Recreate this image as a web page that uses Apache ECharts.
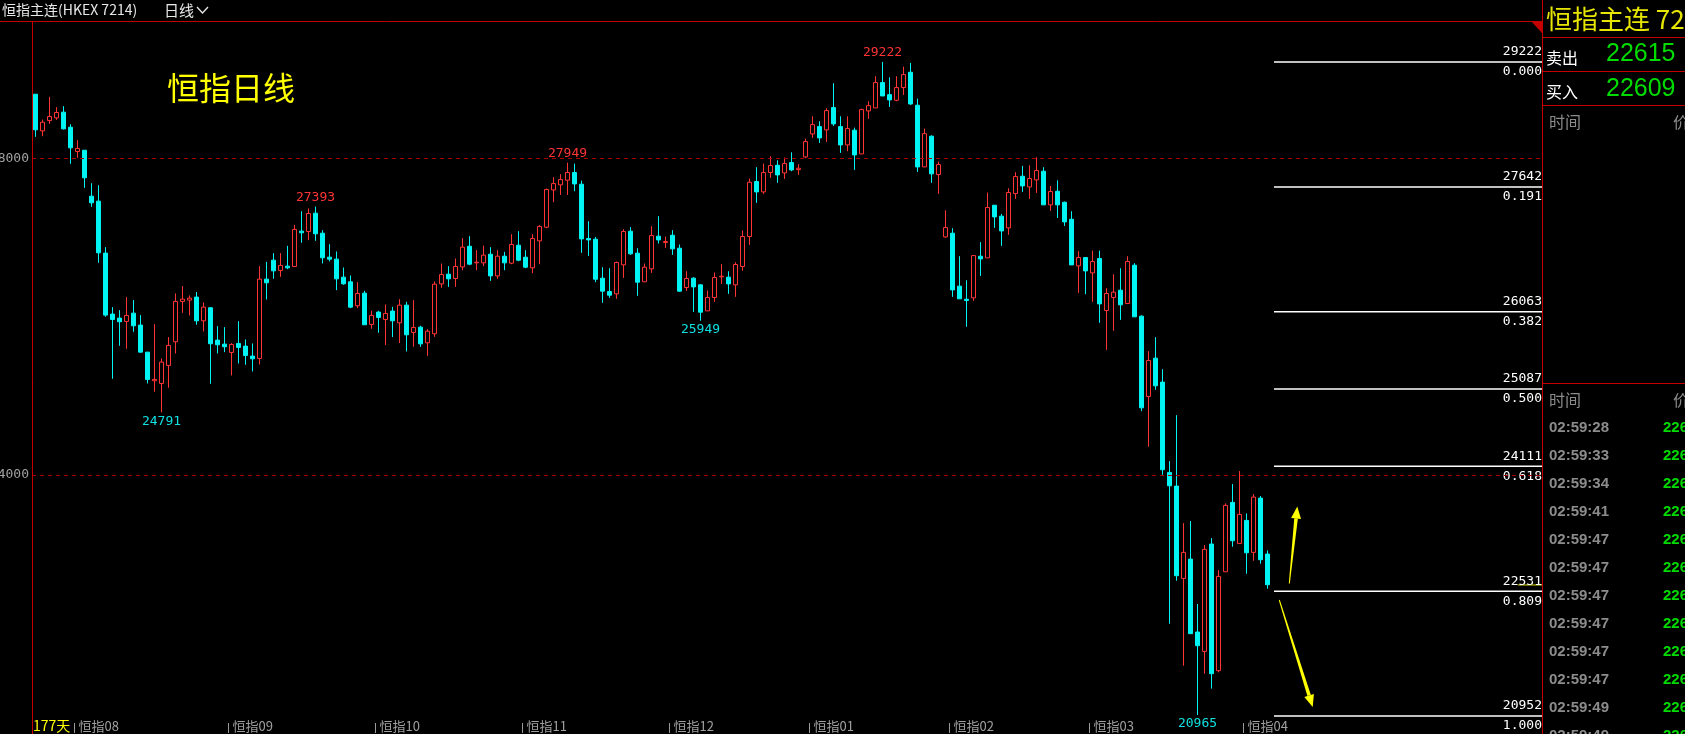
<!DOCTYPE html>
<html><head><meta charset="utf-8">
<script src="https://cdn.jsdelivr.net/npm/echarts@6/dist/echarts.min.js"></script>
<style>html,body{margin:0;padding:0;background:#000;overflow:hidden}#c{width:1685px;height:734px}</style>
</head><body><div id="c"></div>
<script>
// ---- data ----
const openP = [28814,28351,28481,28515,28587,28397,28090,28106,27525,27462,26805,26034,25983,25941,26046,25895,25553,25191,25157,25385,
25684,26194,26211,26249,25949,26114,25705,25654,25549,25663,25629,25503,25473,26476,26716,26586,26640,26636,27083,27078,
27310,27057,26754,26729,26501,26442,26139,26299,25903,26059,25966,26072,25924,26147,25802,25869,25671,25785,26416,26539,
26484,26631,26892,26682,26682,26791,26517,26766,26678,26905,26753,26619,26960,27133,27604,27668,27727,27824,27676,26989,
26981,26488,26319,26290,26657,27082,26804,26442,26606,27019,26939,27031,26867,26370,26488,26404,26075,26244,26505,26501,
26404,26636,27015,27710,27579,27824,27916,27819,27950,27861,28021,28312,28405,28363,28645,28405,28173,28359,28059,28603,
28641,28961,28809,28738,28898,29092,28675,27895,28283,27798,27010,27057,26387,26222,26239,26766,26745,27411,27272,27124,
27558,27777,27642,27731,27840,27415,27587,27448,27233,26644,26749,26555,26736,26079,26244,26336,26168,26652,26008,24992,
25477,25174,24032,23859,22692,22936,22014,21769,23126,21525,22776,23653,23134,23425,23021,23707,23000];
const closeP = [28364,28460,28532,28583,28376,28136,28128,27757,27441,26809,26021,25966,25937,26017,25886,25553,25208,25208,25427,25638,
26194,26223,26236,25949,26122,25659,25646,25621,25650,25612,25511,25469,26476,26430,26581,26649,26619,27104,27062,27306,
27049,26746,26729,26480,26417,26122,26295,25899,26017,25992,26042,25949,26147,25772,25865,25658,25818,26412,26534,26480,
26636,26880,26665,26690,26779,26517,26766,26682,26914,26715,26627,26989,27141,27609,27684,27735,27824,27680,26985,26972,
26475,26324,26273,26686,27078,26796,26437,26627,27027,26972,26951,26859,26324,26484,26378,26058,26244,26496,26513,26416,
26661,27015,27701,27579,27824,27912,27794,27937,27857,27878,28215,28430,28262,28607,28439,28173,28380,28047,28620,28670,
28961,28792,28742,28898,29062,28691,27895,28316,27807,27925,27128,26340,26227,26206,26774,26732,27381,27263,27086,27571,
27773,27655,27748,27849,27415,27583,27415,27200,26656,26749,26580,26698,26163,26294,26311,26151,26699,25999,24849,25447,
25127,24066,23863,22726,23021,21993,21841,23059,21487,22717,23615,23168,23501,23016,23720,22928,22612];
const lowP = [28275,28283,28439,28490,28368,27934,28010,27630,27390,26682,26000,25216,25633,25595,25810,25545,25157,25052,24791,25103,
25537,26050,26017,25899,25815,25153,25537,25553,25258,25410,25393,25309,25397,26219,26480,26505,26602,26632,26935,26969,
26961,26674,26699,26337,26404,26109,26109,25899,25848,25798,25642,25743,25667,25562,25621,25620,25506,25747,26366,26378,
26378,26589,26652,26589,26640,26454,26480,26589,26665,26703,26614,26551,26665,27120,27449,27541,27541,27588,26808,26770,
26437,26176,26239,26227,26492,26783,26265,26442,26555,26926,26871,26783,26315,26328,26062,25949,26075,26189,26416,26290,
26252,26581,26909,27440,27554,27756,27693,27743,27840,27794,28005,28262,28198,28211,28413,28072,28093,27857,28059,28502,
28641,28792,28653,28725,28805,28679,27832,27895,27693,27554,26998,26252,26227,25873,26201,26517,26745,27124,26897,27036,
27491,27579,27491,27566,27415,27339,27250,27149,26656,26302,26286,26189,25923,25582,25822,25961,26168,25999,24807,24356,
25077,24002,22119,22663,21588,21993,20965,21487,21298,21504,22776,23092,23134,22751,22915,22877,22561];
const highP = [28814,28494,28781,28650,28663,28435,28233,28106,27689,27664,26880,26122,26084,26249,26211,26021,25553,25907,25473,25743,
26295,26388,26270,26312,26181,26122,25882,25869,25667,25945,25713,25663,26640,26695,26805,26805,26897,27163,27335,27370,
27393,27095,26918,26826,26623,26522,26438,26329,26076,26076,26156,26126,26223,26190,26211,25886,25843,26446,26673,26640,
26737,26994,27019,26842,26901,26880,26842,26821,27044,27082,26842,27044,27158,27621,27765,27802,27949,27937,27722,27208,
27010,26627,26614,26699,27107,27133,26867,26673,27145,27272,27015,27095,26914,26576,26501,26412,26332,26560,26665,26576,
26690,27091,27748,27891,27937,28030,27979,28013,28080,27929,28253,28535,28472,28637,28953,28535,28535,28392,28632,28725,
29041,29222,29028,29041,29163,29210,28759,28380,28295,27962,27347,27120,26766,26463,26774,26943,27571,27411,27301,27625,
27828,27908,27916,28017,27891,27655,27726,27457,27335,26829,26749,26837,26837,26361,26538,26614,26766,26678,26020,25565,
25742,25338,24175,24756,23391,23417,22368,23113,23202,22797,23640,23884,24049,23514,23758,23733,23046];
const monthStart = [6,28,49,70,91,111,131,151,173];
const monthLabels = ['恒指08','恒指09','恒指10','恒指11','恒指12','恒指01','恒指02','恒指03','恒指04'];
const gridValues = [24000, 28000];
const fibValues = [29222,27642,26063,25087,24111,22531,20952];
const fibRatios = ['0.000','0.191','0.382','0.500','0.618','0.809','1.000'];
const peakIndex = [18,40,76,95,121,166];
const peakValues = [24791,27393,27949,25949,29222,20965];
const peakIsHigh = [false,true,true,false,true,false];
const lastPrice = 22609;
const askPrice = '22615', bidPrice = '22609';
const tickTimes = ['02:59:28','02:59:33','02:59:34','02:59:41','02:59:47','02:59:47','02:59:47','02:59:47','02:59:47','02:59:47','02:59:49','02:59:49'];
const tickPrices = ['22612','22611','22612','22610','22609','22609','22610','22609','22610','22609','22612','22611'];
const dayCount = '177天';

// ---- build ----
const TOTAL = 216; // candles + empty space to the right
const cats = [];
for (let i = 0; i < TOTAL; i++) cats.push(String(i));
const labelMap = {};
monthStart.forEach((s, k) => { labelMap[s] = monthLabels[k]; });
const candles = openP.map((o, i) => [o, closeP[i], lowP[i], highP[i]]);

const RED = '#ff3434', CYAN = '#00f4f4', LINE_RED = '#c40000';
const YMIN = 20863.5, YMAX = 29740;
const NUMFONT = 'DejaVu Sans Mono';

const series = [{
  type: 'candlestick', xAxisIndex: 0, yAxisIndex: 0, data: candles, barWidth: 5,
  itemStyle: { color: '#000', color0: CYAN, borderColor: RED, borderColor0: CYAN, borderWidth: 1 },
  markLine: {
    silent: true, symbol: 'none', animation: false,
    label: { show: false },
    lineStyle: { color: '#a80000', type: [4, 4], width: 1 },
    data: gridValues.map(v => ({ yAxis: v }))
  },
  markPoint: {
    silent: true, symbol: 'circle', symbolSize: 1, itemStyle: { color: 'rgba(0,0,0,0)' },
    data: peakIndex.map((ix, k) => ({
      coord: [String(ix), peakValues[k]], value: peakValues[k],
      label: {
        show: true, formatter: String(peakValues[k]),
        position: peakIsHigh[k] ? 'top' : 'bottom', distance: 2,
        color: peakIsHigh[k] ? RED : '#10e0e0', fontSize: 13, fontFamily: NUMFONT
      }
    }))
  }
}];

const fibLabel = (text, pos) => ({ show: true, position: pos, align: 'right', distance: 3, formatter: text, color: '#ffffff', fontSize: 13, fontFamily: NUMFONT });
fibValues.forEach((v, k) => {
  series.push({
    type: 'line', xAxisIndex: 1, yAxisIndex: 1, symbol: 'circle', symbolSize: 1, showSymbol: true, silent: true,
    itemStyle: { color: 'rgba(0,0,0,0)' },
    lineStyle: { color: '#ffffff', width: 1.5 },
    label: { show: false },
    data: [{ value: [0, v] }, { value: [1, v], label: fibLabel(String(v), 'top') }]
  });
  series.push({
    type: 'line', xAxisIndex: 1, yAxisIndex: 1, symbol: 'circle', symbolSize: 1, showSymbol: true, silent: true,
    itemStyle: { color: 'rgba(0,0,0,0)' },
    lineStyle: { opacity: 0 },
    label: { show: false },
    data: [{ value: [0, v] }, { value: [1, v], label: fibLabel(fibRatios[k], 'bottom') }]
  });
});
series.push({
  type: 'line', xAxisIndex: 1, yAxisIndex: 1, symbol: 'none', silent: true,
  lineStyle: { color: '#e0e000', width: 1 },
  data: [[0.91, lastPrice], [1, lastPrice]]
});

// ---- decorations ----
function arrow(tail, tip, headLen, halfW, shaftW) {
  const dx = tip[0] - tail[0], dy = tip[1] - tail[1];
  const L = Math.sqrt(dx * dx + dy * dy), ux = dx / L, uy = dy / L;
  const bx = tip[0] - ux * headLen, by = tip[1] - uy * headLen;
  const px = -uy, py = ux;
  return [
    { type: 'polygon', z: 60, shape: { points: [[tail[0] + px * 0.5, tail[1] + py * 0.5], [tail[0] - px * 0.5, tail[1] - py * 0.5], [bx - px * shaftW, by - py * shaftW], [bx + px * shaftW, by + py * shaftW]] }, style: { fill: '#ffff00' } },
    { type: 'polygon', z: 60, shape: { points: [[tip[0], tip[1]], [bx + px * halfW, by + py * halfW], [bx - px * halfW, by - py * halfW]] }, style: { fill: '#ffff00' } }
  ];
}
const G = [];
const redLine = (x1, y1, x2, y2) => ({ type: 'line', z: 70, shape: { x1, y1, x2, y2 }, style: { stroke: LINE_RED, lineWidth: 1 } });
const txt = (text, x, y, fill, font, align) => ({ type: 'text', z: 80, style: { text, x, y, fill, font, textAlign: align || 'left', textVerticalAlign: 'middle' } });

G.push(redLine(0, 21.5, 1542, 21.5));
G.push(redLine(32.5, 21, 32.5, 734));
G.push({ type: 'polygon', z: 71, shape: { points: [[1531, 21], [1542, 21], [1542, 33]] }, style: { fill: LINE_RED } });
G.push(txt('恒指主连(HKEX 7214)', 2, 10, '#e8e8e8', '14px "Noto Sans CJK SC"'));
G.push(txt('日线', 164, 10, '#e8e8e8', '15px "Noto Sans CJK SC"'));
G.push({ type: 'polyline', z: 80, shape: { points: [[197, 7], [202.5, 13], [208, 7]] }, style: { stroke: '#e8e8e8', lineWidth: 1.3, fill: null } });
G.push(txt('恒指日线', 167, 88, '#ffff00', '32px "Noto Sans CJK SC"'));
G.push(txt(dayCount, 33, 726, '#ffff00', '14px "Noto Sans CJK SC"'));
arrow([1289.3, 583.5], [1297.3, 506.5], 12, 5, 1.8).forEach(e => G.push(e));
arrow([1279.3, 600], [1312.7, 707], 12, 5, 1.8).forEach(e => G.push(e));

// right panel
G.push({ type: 'rect', z: 65, shape: { x: 1543, y: 0, width: 142, height: 734 }, style: { fill: '#000' } });
G.push(redLine(1542.5, 0, 1542.5, 734));
[37.5, 71.5, 105.5, 383.5].forEach(y => G.push(redLine(1542, y, 1685, y)));
G.push(txt('恒指主连 7214', 1546, 19, '#e6e600', '26px "Noto Sans CJK SC"'));
G.push(txt('卖出', 1546, 58, '#ffffff', '16px "Noto Sans CJK SC"'));
G.push(txt(askPrice, 1606, 54, '#00dc00', '25px "Liberation Sans"'));
G.push(txt('买入', 1546, 92, '#ffffff', '16px "Noto Sans CJK SC"'));
G.push(txt(bidPrice, 1606, 89, '#00dc00', '25px "Liberation Sans"'));
G.push(txt('时间', 1549, 122, '#8a8a8a', '16px "Noto Sans CJK SC"'));
G.push(txt('价', 1673, 122, '#8a8a8a', '16px "Noto Sans CJK SC"'));
G.push(txt('时间', 1549, 400, '#8a8a8a', '16px "Noto Sans CJK SC"'));
G.push(txt('价', 1673, 400, '#8a8a8a', '16px "Noto Sans CJK SC"'));
tickTimes.forEach((t, k) => {
  G.push(txt(t, 1549, 427.5 + 28 * k, '#8c8c8c', 'bold 15px "Liberation Sans"'));
  G.push(txt(tickPrices[k], 1663, 427.5 + 28 * k, '#00dc00', 'bold 15px "Liberation Sans"'));
});

const chart = echarts.init(document.getElementById('c'), null, { renderer: 'canvas' });
chart.setOption({
  backgroundColor: '#000',
  animation: false,
  grid: [
    { left: 32, top: 21, width: 1512, height: 702, containLabel: false, outerBoundsMode: 'none' },
    { left: 1274, top: 21, width: 268, height: 702, containLabel: false, outerBoundsMode: 'none' }
  ],
  xAxis: [{
    type: 'category', gridIndex: 0, data: cats, boundaryGap: true,
    axisLine: { show: false },
    axisTick: { show: true, alignWithLabel: false, length: 10, interval: (i) => labelMap[i] !== undefined, lineStyle: { color: '#9a9a9a' } },
    axisLabel: { show: true, interval: (i) => labelMap[i] !== undefined, formatter: (v, i) => labelMap[i] || '', align: 'left', margin: -3, padding: [0, 0, 0, 1], color: '#a0a0a0', fontSize: 13, fontFamily: '"Noto Sans CJK SC"' },
    splitLine: { show: false }
  }, {
    type: 'value', gridIndex: 1, min: 0, max: 1, show: false
  }],
  yAxis: [{
    type: 'value', gridIndex: 0, min: YMIN, max: YMAX,
    axisLine: { show: false }, axisTick: { show: false }, splitLine: { show: false },
    axisLabel: { show: true, customValues: gridValues, formatter: (v) => String(v), margin: 3, color: '#a0a0a0', fontSize: 13, fontFamily: NUMFONT }
  }, {
    type: 'value', gridIndex: 1, min: YMIN, max: YMAX, show: false
  }],
  series: series,
  graphic: G
});
</script>
</body></html>
